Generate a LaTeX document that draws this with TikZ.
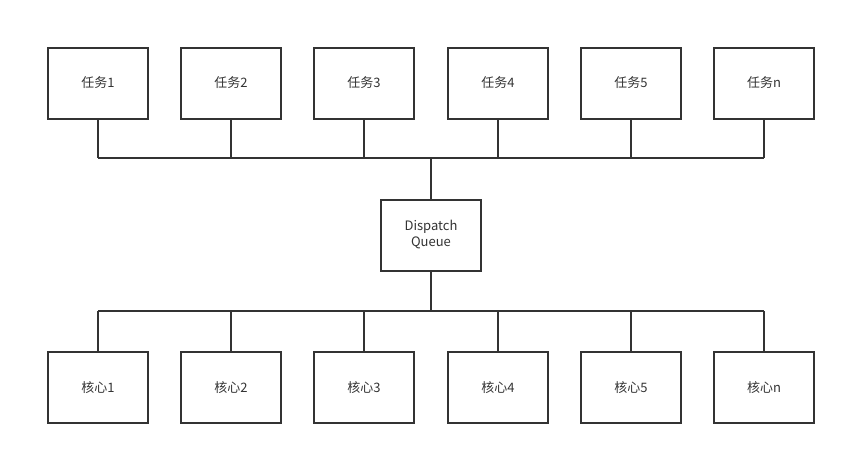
\documentclass[tikz,border=0pt]{standalone}
\usepackage{fontspec}
\setmainfont{Noto Sans CJK SC}
\begin{document}
\begin{tikzpicture}[x=1pt,y=-1pt,
  box/.style={draw=black!80, line width=2pt, minimum width=100pt, minimum height=71pt, inner sep=0pt, text=black!80, font=\fontsize{13pt}{16pt}\selectfont, align=center},
  wire/.style={draw=black!80, line width=2pt}]
\useasboundingbox (0,0) rectangle (846,455);
\foreach \i/\x/\lab in {1/98/任务1,2/231/任务2,3/364/任务3,4/498/任务4,5/631/任务5,6/764/任务n}{
  \node[box] (t\i) at (\x,83) {\lab};
}
\foreach \i/\x/\lab in {1/98/核心1,2/231/核心2,3/364/核心3,4/498/核心4,5/631/核心5,6/764/核心n}{
  \node[box] (c\i) at (\x,387.5) {\lab};
}
\node[box] (d) at (431,235) {Dispatch\\Queue};
\coordinate (topbus) at (431,158);
\coordinate (botbus) at (431,311);
\foreach \i in {1,...,6}{
  \draw[wire] (t\i.south) -- (t\i.south |- topbus);
  \draw[wire] (c\i.north) -- (c\i.north |- botbus);
}
\draw[wire] (t1.south |- topbus) -- (t6.south |- topbus);
\draw[wire] (c1.north |- botbus) -- (c6.north |- botbus);
\draw[wire] (d.north) -- (topbus);
\draw[wire] (d.south) -- (botbus);
\end{tikzpicture}
\end{document}
